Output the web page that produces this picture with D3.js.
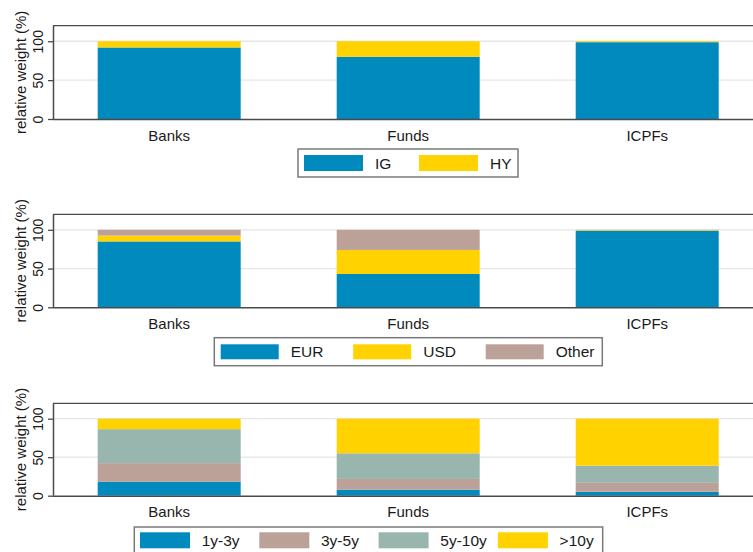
<!DOCTYPE html>
<html>
<head>
<meta charset="utf-8">
<script src="https://cdn.jsdelivr.net/npm/d3@7"></script>
<style>
  html, body { margin: 0; padding: 0; background: #fff; }
  svg { display: block; font-family: "Liberation Sans", Arial, sans-serif; }
</style>
</head>
<body>
<svg id="chart" width="753" height="552"></svg>
<script>
// ---- data ----
const categories = ["Banks", "Funds", "ICPFs"];
const yTicks = [0, 50, 100];

const ratingSeries = ["IG", "HY"];
const ratingIG = [92, 80, 98.8];
const ratingHY = [8, 20, 1.2];

const currencySeries = ["EUR", "USD", "Other"];
const currencyEUR = [85, 43, 98.5];
const currencyUSD = [7.5, 31, 0.8];
const currencyOther = [7.5, 26, 0.7];

const maturitySeries = ["1y-3y", "3y-5y", "5y-10y", ">10y"];
const maturity1to3 = [18, 7.7, 5.1];
const maturity3to5 = [24.3, 14.1, 11.6];
const maturity5to10 = [44.1, 33.3, 22.3];
const maturityOver10 = [13.6, 44.9, 61];

const colors = {
  "IG": "#008abd", "HY": "#ffd200",
  "EUR": "#008abd", "USD": "#ffd200", "Other": "#bca199",
  "1y-3y": "#008abd", "3y-5y": "#bca199", "5y-10y": "#98b5ae", ">10y": "#ffd200"
};

const panels = [
  { series: ratingSeries, values: [ratingIG, ratingHY], top: 25.7, bottom: 119,
    legend: { x: 298, y: 149, w: 220, h: 28, sx: 304, sw: 59, sh: 16, sy: 6, step: 115, lx: 71 } },
  { series: currencySeries, values: [currencyEUR, currencyUSD, currencyOther], top: 214.3, bottom: 307.3,
    legend: { x: 214.3, y: 337.7, w: 388, h: 28, sx: 220.7, sw: 58, sh: 15, sy: 6.6, step: 132.5, lx: 70 } },
  { series: maturitySeries, values: [maturity1to3, maturity3to5, maturity5to10, maturityOver10], top: 403.3, bottom: 495.7,
    legend: { x: 134.3, y: 527, w: 468.4, h: 28, sx: 140, sw: 50, sh: 16, sy: 5.3, step: 119.3, lx: 61.7 } }
];

const svg = d3.select("#chart");
const left = 53;
const x = d3.scaleBand().domain(categories).range([left, 763.4]).paddingInner(0.4017).paddingOuter(0.187);
const axisColor = "#4a4a4a";
const textColor = "#1a1a1a";

panels.forEach(p => {
  const g = svg.append("g");
  const y = d3.scaleLinear().domain([0, 120]).range([p.bottom, p.top]);

  // gridlines
  g.selectAll(".grid").data(yTicks.filter(t => t > 0)).join("line")
    .attr("x1", left).attr("x2", 753)
    .attr("y1", d => y(d)).attr("y2", d => y(d))
    .attr("stroke", "#e6e6e6").attr("stroke-width", 1.3);

  // stacked bars
  const rows = categories.map((c, i) => {
    const r = { cat: c };
    p.series.forEach((s, j) => r[s] = p.values[j][i]);
    return r;
  });
  const stacked = d3.stack().keys(p.series)(rows);
  g.selectAll(".layer").data(stacked).join("g")
    .attr("fill", d => colors[d.key])
    .selectAll("rect").data(d => d).join("rect")
      .attr("x", d => x(d.data.cat))
      .attr("width", x.bandwidth())
      .attr("y", d => y(d[1]))
      .attr("height", d => y(d[0]) - y(d[1]));

  // top frame line
  g.append("line").attr("x1", left).attr("x2", 753)
    .attr("y1", p.top).attr("y2", p.top)
    .attr("stroke", axisColor).attr("stroke-width", 1.3);

  // y axis
  const yAxis = d3.axisLeft(y).tickValues(yTicks).tickSize(5).tickSizeOuter(0).tickPadding(6);
  const ya = g.append("g").attr("transform", `translate(${left},0)`).call(yAxis);
  ya.select(".domain").attr("stroke", axisColor).attr("stroke-width", 1.5)
    .attr("d", `M0.5,${p.bottom}V${p.top}`);
  ya.selectAll(".tick line").attr("stroke", axisColor).attr("stroke-width", 1.3);
  ya.selectAll(".tick text")
    .attr("font-size", 14).attr("fill", textColor)
    .attr("x", null).attr("dy", null)
    .attr("text-anchor", "middle")
    .attr("transform", "translate(-15,0) rotate(-90)")
    .attr("y", 0).attr("dy", "0.35em");

  // x axis
  const xAxis = d3.axisBottom(x).tickSize(0).tickSizeOuter(0).tickPadding(11);
  const xa = g.append("g").attr("transform", `translate(0,${p.bottom})`).call(xAxis);
  xa.select(".domain").attr("stroke", axisColor).attr("stroke-width", 1.5)
    .attr("d", `M${left},0.5H753`);
  xa.selectAll(".tick text").attr("font-size", 15).attr("fill", textColor);

  // y title
  g.append("text")
    .attr("transform", `translate(21,${(p.top + p.bottom) / 2}) rotate(-90)`)
    .attr("text-anchor", "middle").attr("dy", "0.35em")
    .attr("font-size", 15).attr("fill", textColor)
    .text("relative weight (%)");

  // legend
  const L = p.legend;
  const lg = g.append("g");
  lg.append("rect").attr("x", L.x).attr("y", L.y).attr("width", L.w).attr("height", L.h)
    .attr("fill", "#fff").attr("stroke", "#7a7a7a").attr("stroke-width", 1.5);
  const items = lg.selectAll(".item").data(p.series).join("g")
    .attr("transform", (d, i) => `translate(${L.sx + i * L.step},${L.y + L.sy})`);
  items.append("rect").attr("width", L.sw).attr("height", L.sh).attr("fill", d => colors[d]);
  items.append("text").attr("x", L.lx).attr("y", L.sh / 2).attr("dy", "0.36em")
    .attr("font-size", 15.5).attr("fill", textColor).text(d => d);
});
</script>
</body>
</html>
